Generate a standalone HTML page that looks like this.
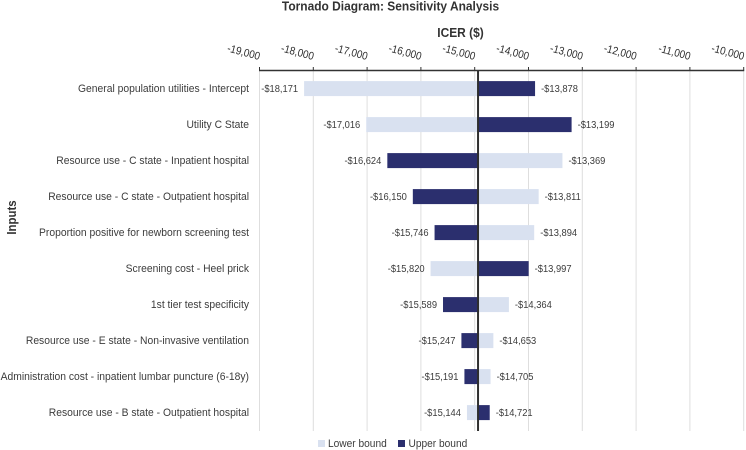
<!DOCTYPE html>
<html lang="en">
<head>
<meta charset="utf-8">
<title>Tornado Diagram</title>
<style>
html,body{margin:0;padding:0;background:#fff;}
svg{display:block;}
text{font-family:"Liberation Sans",sans-serif;}
</style>
</head>
<body>
<svg id="chart" xmlns="http://www.w3.org/2000/svg" width="746" height="450" viewBox="0 0 746 450"></svg>
<script>
const inputs = [
  "General population utilities - Intercept",
  "Utility C State",
  "Resource use - C state - Inpatient hospital",
  "Resource use - C state - Outpatient hospital",
  "Proportion positive for newborn screening test",
  "Screening cost - Heel prick",
  "1st tier test specificity",
  "Resource use - E state - Non-invasive ventilation",
  "Administration cost - inpatient lumbar puncture (6-18y)",
  "Resource use - B state - Outpatient hospital"
];
const lowerBound = [-18171, -17016, -13369, -13811, -13894, -15820, -14364, -14653, -14705, -15144];
const upperBound = [-13878, -13199, -16624, -16150, -15746, -13997, -15589, -15247, -15191, -14721];
const ticks = [-19000, -18000, -17000, -16000, -15000, -14000, -13000, -12000, -11000, -10000];
const baseCase = -14938;

const svg = document.getElementById('chart');
const NS = 'http://www.w3.org/2000/svg';
const LIGHT = '#d9e1f0', DARK = '#2b2f6e', TEXT = '#3c3c3c';
const plot = {left: 259.5, right: 743.7, top: 70.5, bottom: 431, rowH: 36};
const xMin = ticks[0], xMax = ticks[ticks.length - 1];
function xScale(v){ return plot.left + (v - xMin) / (xMax - xMin) * (plot.right - plot.left); }
function rowCenter(i){ return 88.6 + i * plot.rowH; }
function money(v){ return '-$' + Math.abs(v).toLocaleString('en-US'); }

function shape(tag, attrs, parent){
  const el = document.createElementNS(NS, tag);
  for (const k in attrs) el.setAttribute(k, attrs[k]);
  (parent || svg).appendChild(el);
  return el;
}
function label(str, x, y, size, anchor, opts){
  opts = opts || {};
  const el = document.createElementNS(NS, 'text');
  const sx = opts.sx || 0.9;
  const rot = opts.rot ? ' rotate(' + opts.rot + ')' : '';
  el.setAttribute('transform', 'translate(' + x + ',' + y + ')' + rot + ' scale(' + sx + ',1)');
  el.setAttribute('font-size', size);
  el.setAttribute('text-anchor', anchor);
  el.setAttribute('fill', opts.fill || TEXT);
  if (opts.bold) el.setAttribute('font-weight', 'bold');
  el.textContent = str;
  svg.appendChild(el);
  return el;
}

// gridlines
ticks.forEach(function(t){
  const g = shape('line', {x1: xScale(t), x2: xScale(t), y1: plot.top, y2: plot.bottom, stroke: '#dedede', 'stroke-width': 1});
  
  
});

// bars and value labels
inputs.forEach(function(name, i){
  const cy = rowCenter(i);
  const base = xScale(baseCase);
  const l = xScale(lowerBound[i]), u = xScale(upperBound[i]);
  const lowBar = shape('rect', {x: Math.min(l, base), y: cy - 7.5, width: Math.abs(l - base), height: 15, fill: LIGHT});
  
  
  const upBar = shape('rect', {x: Math.min(u, base), y: cy - 7.5, width: Math.abs(u - base), height: 15, fill: DARK});
  
  

  const cat = label(name, 249, cy + 3.4, 11.2, 'end', {sx: 0.922});
  
  

  [lowerBound[i], upperBound[i]].forEach(function(v){
    const isLeft = v < baseCase;
    const px = xScale(v) + (isLeft ? -6 : 6);
    const val = label(money(v), px, cy + 3.4, 10.4, isLeft ? 'end' : 'start');
    
    
  });
});

// base-case vertical line
const baseLine = shape('line', {x1: xScale(baseCase), x2: xScale(baseCase), y1: plot.top, y2: plot.bottom, stroke: '#2f2f2f', 'stroke-width': 2});



// top axis
const axisLine = shape('line', {x1: plot.left - 0.5, x2: plot.right + 0.5, y1: plot.top, y2: plot.top, stroke: '#333', 'stroke-width': 1.5});


ticks.forEach(function(t){
  const m = shape('line', {x1: xScale(t), x2: xScale(t), y1: plot.top - 3.5, y2: plot.top, stroke: '#333', 'stroke-width': 1});
  
  
  const tl = label('-' + Math.abs(t).toLocaleString('en-US'), xScale(t) - 0.5, 60, 11, 'end', {rot: 15, fill: '#2e2e2e'});
  
  
});

// titles
const title = label('Tornado Diagram: Sensitivity Analysis', 390.5, 10.5, 13, 'middle', {bold: true, sx: 0.92, fill: '#333'});


const xTitle = label('ICER ($)', 460.5, 37, 13, 'middle', {bold: true, sx: 0.92, fill: '#333'});


const yTitle = label('Inputs', 16, 217.5, 13, 'middle', {bold: true, rot: -90, sx: 0.88, fill: '#333'});



// legend
const lowSwatch = shape('rect', {x: 318, y: 440, width: 7, height: 7, fill: LIGHT});


const lowText = label('Lower bound', 328, 447, 11, 'start', {sx: 0.925});


const upSwatch = shape('rect', {x: 398, y: 440, width: 7, height: 7, fill: DARK});


const upText = label('Upper bound', 408.5, 447, 11, 'start', {sx: 0.925});


</script>
</body>
</html>
